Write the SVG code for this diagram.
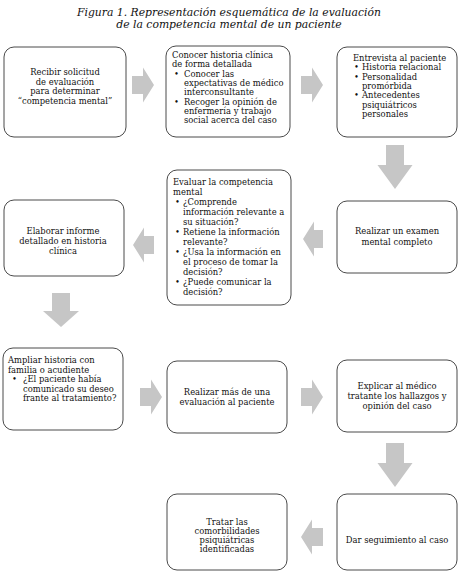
<svg xmlns="http://www.w3.org/2000/svg" width="464" height="574" viewBox="0 0 464 574">
<style>
.bg{fill:#ffffff}
.box{fill:#ffffff;stroke:#4a4a4a;stroke-width:1}
.t{font-family:"DejaVu Serif","Liberation Serif",serif;font-size:8.4px;fill:#111111}
.c{text-anchor:middle}
.title{font-family:"DejaVu Serif","Liberation Serif",serif;font-style:italic;font-size:10.8px;fill:#111111;text-anchor:middle}
.arr{fill:#c6c6c6}
</style>
<rect class="bg" x="0" y="0" width="464" height="574"/>
<g id="title">
<text class="title" x="229" y="16">Figura 1. Representación esquemática de la evaluación</text>
<text class="title" x="229" y="28">de la competencia mental de un paciente</text>
</g>
<g id="connectors">
<path class="arr" d="M132,76 H143 V67.5 L154,85 L143,102.5 V94 H132 Z"/>
<path class="arr" d="M301,76 H312 V67.5 L323,85 L312,102.5 V94 H301 Z"/>
<path class="arr" d="M386,145 H404 V165 H412.5 L395,189 L377.5,165 H386 Z"/>
<path class="arr" d="M323,230 H314 V221.5 L303,239 L314,256.5 V248 H323 Z"/>
<path class="arr" d="M154,236 H144 V227.5 L133,245 L144,262.5 V254 H154 Z"/>
<path class="arr" d="M52,293 H70 V311 H79 L61,327 L43,311 H52 Z"/>
<path class="arr" d="M140,388 H151 V379.5 L162,397 L151,414.5 V406 H140 Z"/>
<path class="arr" d="M301,388 H312 V379.5 L323,397 L312,414.5 V406 H301 Z"/>
<path class="arr" d="M386,443 H404 V463 H412.5 L395,487 L377.5,463 H386 Z"/>
<path class="arr" d="M323,528 H312 V519.5 L301,537 L312,554.5 V546 H323 Z"/>
</g>
<g id="n1">
<rect class="box" x="4" y="47" width="122" height="90" rx="10"/>
<text class="t c" x="65" y="75">Recibir solicitud</text>
<text class="t c" x="65" y="84.5">de evaluación</text>
<text class="t c" x="65" y="94">para determinar</text>
<text class="t c" x="65" y="103.5">“competencia mental”</text>
</g>
<g id="n2">
<rect class="box" x="166" y="46" width="124" height="91" rx="10"/>
<text class="t" x="172" y="58">Conocer historia clínica</text>
<text class="t" x="172" y="67.3">de forma detallada</text>
<text class="t" x="174" y="76.6">•</text><text class="t" x="184" y="76.6">Conocer las</text>
<text class="t" x="184" y="85.9">expectativas de médico</text>
<text class="t" x="184" y="95.2">interconsultante</text>
<text class="t" x="174" y="104.5">•</text><text class="t" x="184" y="104.5">Recoger la opinión de</text>
<text class="t" x="184" y="113.8">enfermería y trabajo</text>
<text class="t" x="184" y="123.1">social acerca del caso</text>
</g>
<g id="n3">
<rect class="box" x="337" y="47" width="120" height="90" rx="10"/>
<text class="t" x="353" y="61">Entrevista al paciente</text>
<text class="t" x="354" y="70.3">•</text><text class="t" x="362" y="70.3">Historia relacional</text>
<text class="t" x="354" y="79.6">•</text><text class="t" x="362" y="79.6">Personalidad</text>
<text class="t" x="362" y="88.9">promórbida</text>
<text class="t" x="354" y="98.2">•</text><text class="t" x="362" y="98.2">Antecedentes</text>
<text class="t" x="362" y="107.5">psiquiátricos</text>
<text class="t" x="362" y="116.8">personales</text>
</g>
<g id="n4">
<rect class="box" x="337" y="201" width="120" height="72" rx="10"/>
<text class="t c" x="397" y="234">Realizar un examen</text>
<text class="t c" x="397" y="245">mental completo</text>
</g>
<g id="n5">
<rect class="box" x="167" y="170" width="124" height="135" rx="10"/>
<text class="t" x="173" y="185">Evaluar la competencia</text>
<text class="t" x="173" y="195">mental</text>
<text class="t" x="175" y="205">•</text><text class="t" x="183" y="205">¿Comprende</text>
<text class="t" x="183" y="215">información relevante a</text>
<text class="t" x="183" y="225">su situación?</text>
<text class="t" x="175" y="235">•</text><text class="t" x="183" y="235">Retiene la información</text>
<text class="t" x="183" y="245">relevante?</text>
<text class="t" x="175" y="255">•</text><text class="t" x="183" y="255">¿Usa la información en</text>
<text class="t" x="183" y="265">el proceso de tomar la</text>
<text class="t" x="183" y="275">decisión?</text>
<text class="t" x="175" y="285">•</text><text class="t" x="183" y="285">¿Puede comunicar la</text>
<text class="t" x="183" y="295">decisión?</text>
</g>
<g id="n6">
<rect class="box" x="4" y="200" width="120" height="76" rx="10"/>
<text class="t c" x="63" y="234">Elaborar informe</text>
<text class="t c" x="63" y="244">detallado en historia</text>
<text class="t c" x="63" y="254">clínica</text>
</g>
<g id="n7">
<rect class="box" x="3" y="348" width="120" height="82" rx="10"/>
<text class="t" x="8" y="363">Ampliar historia con</text>
<text class="t" x="8" y="372.5">familia o acudiente</text>
<text class="t" x="12" y="382">•</text><text class="t" x="23" y="382">¿El paciente había</text>
<text class="t" x="23" y="391.5">comunicado su deseo</text>
<text class="t" x="23" y="401">frante al tratamiento?</text>
</g>
<g id="n8">
<rect class="box" x="167" y="361" width="120" height="72" rx="10"/>
<text class="t c" x="227" y="395">Realizar más de una</text>
<text class="t c" x="227" y="405">evaluación al paciente</text>
</g>
<g id="n9">
<rect class="box" x="337" y="360" width="120" height="72" rx="10"/>
<text class="t c" x="397" y="389">Explicar al médico</text>
<text class="t c" x="397" y="399">tratante los hallazgos y</text>
<text class="t c" x="397" y="409">opinión del caso</text>
</g>
<g id="n10">
<rect class="box" x="167" y="494" width="120" height="76" rx="10"/>
<text class="t c" x="227" y="525">Tratar las</text>
<text class="t c" x="227" y="534">comorbilidades</text>
<text class="t c" x="227" y="543">psiquiátricas</text>
<text class="t c" x="227" y="552">identificadas</text>
</g>
<g id="n11">
<rect class="box" x="337" y="494" width="120" height="76" rx="10"/>
<text class="t c" x="397" y="543">Dar seguimiento al caso</text>
</g>
</svg>
